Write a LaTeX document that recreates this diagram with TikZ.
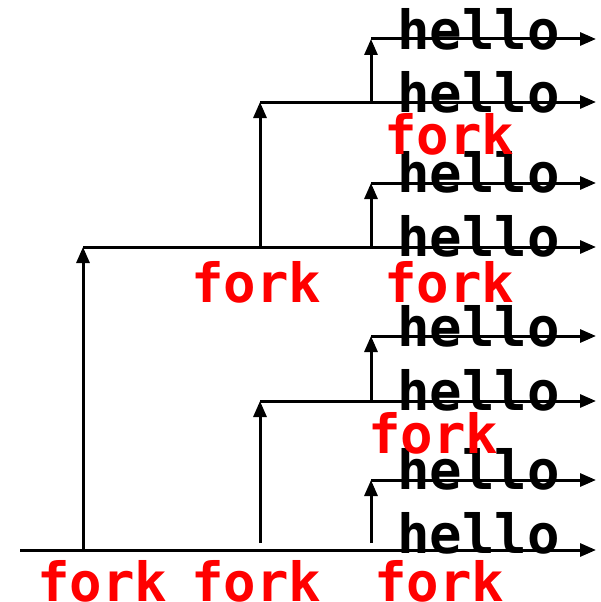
\documentclass[tikz,border=0pt]{standalone}
\usepackage{fontspec}
\setmonofont{DejaVu Sans Mono}
\usetikzlibrary{arrows.meta}
\begin{document}
\begin{tikzpicture}[x=1pt,y=-1pt,
  ln/.style={line width=3pt},
  arr/.style={ln,-{Triangle[length=16pt,width=13pt]}},
  lbl/.style={inner sep=0pt,anchor=base west,font=\ttfamily\bfseries\fontsize{54}{54}\selectfont},
  hel/.style={lbl,text=black},
  frk/.style={lbl,text=red}]
\useasboundingbox (0,0) rectangle (601,602);
% branch points
\coordinate (s0) at (20,550);
\coordinate (a) at (83,550);   \coordinate (a1) at (83,247);
\coordinate (b) at (260,543);  \coordinate (b1) at (260,401);
\coordinate (c) at (260,247);  \coordinate (c1) at (260,102);
\coordinate (d) at (371,543);  \coordinate (d1) at (371,480);
\coordinate (e) at (371,401);  \coordinate (e1) at (371,336);
\coordinate (f) at (371,247);  \coordinate (f1) at (371,183);
\coordinate (g) at (371,102);  \coordinate (g1) at (371,39);
% ends
\coordinate (t0) at (596,550);
\coordinate (t1) at (596,247);
\coordinate (t2) at (596,401);
\coordinate (t3) at (596,102);
\coordinate (t4) at (596,480);
\coordinate (t5) at (596,336);
\coordinate (t6) at (596,183);
\coordinate (t7) at (596,39);
% horizontal arrows
\draw[arr] (s0) -- (t0);
\draw[arr] (a1) -- (t1);
\draw[arr] (b1) -- (t2);
\draw[arr] (c1) -- (t3);
\draw[arr] (d1) -- (t4);
\draw[arr] (e1) -- (t5);
\draw[arr] (f1) -- (t6);
\draw[arr] (g1) -- (t7);
% vertical arrows
\draw[arr] (a) -- (a1);
\draw[arr] (b) -- (b1);
\draw[arr] (c) -- (c1);
\draw[arr] (d) -- (d1);
\draw[arr] (e) -- (e1);
\draw[arr] (f) -- (f1);
\draw[arr] (g) -- (g1);
% hello labels
\node[hel] (h1) at (397,50) {hello};
\node[hel] (h2) at (397,112) {hello};
\node[hel] (h3) at (397,192) {hello};
\node[hel] (h4) at (397,256) {hello};
\node[hel] (h5) at (397,346) {hello};
\node[hel] (h6) at (397,410) {hello};
\node[hel] (h7) at (397,489) {hello};
\node[hel] (h8) at (397,553) {hello};
% fork labels
\node[frk] (k1) at (384,154) {fork};
\node[frk] (k2) at (191,302) {fork};
\node[frk] (k3) at (384,302) {fork};
\node[frk] (k4) at (368,453) {fork};
\node[frk] (k5) at (37,601) {fork};
\node[frk] (k6) at (191,601) {fork};
\node[frk] (k7) at (374,601) {fork};
\end{tikzpicture}
\end{document}
